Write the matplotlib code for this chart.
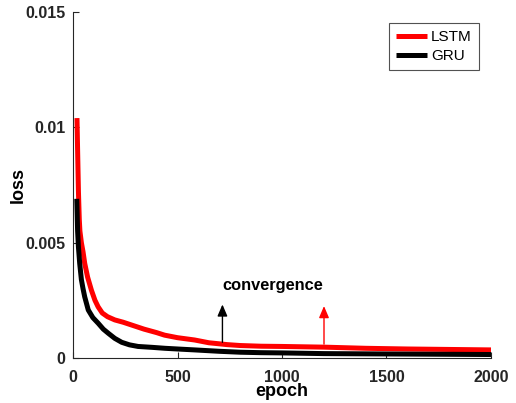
import numpy as np
import matplotlib.pyplot as plt

plt.rcParams['font.family'] = ['Liberation Sans', 'DejaVu Sans']

# LSTM loss curve
lstm_epoch = [19, 22, 26, 30, 33, 40, 48, 56, 70, 88, 105, 120, 140, 165, 200, 240, 280,
              340, 400, 438, 500, 582, 650, 737, 800, 900, 1000, 1200, 1400, 1600, 1800, 2000]
lstm_loss = [0.0104, 0.0090, 0.0072, 0.0060, 0.0055, 0.0050, 0.0046, 0.0041, 0.0035, 0.00294,
             0.0025, 0.00222, 0.00195, 0.00179, 0.00165, 0.00155, 0.00143, 0.00125, 0.00110,
             0.00099, 0.00088, 0.00078, 0.00066, 0.00058, 0.00054, 0.00051, 0.00050, 0.00047,
             0.00042, 0.00039, 0.00037, 0.00035]

# GRU loss curve
gru_epoch = [18, 20, 22, 26, 32, 40, 48, 56, 73, 95, 121, 145, 169, 200, 233, 270, 311,
             380, 440, 520, 582, 700, 800, 900, 1000, 1200, 1400, 1600, 1800, 2000]
gru_loss = [0.0069, 0.0062, 0.0055, 0.0048, 0.0041, 0.0034, 0.0030, 0.00265, 0.00208, 0.00175,
            0.0015, 0.00125, 0.00107, 0.00085, 0.00068, 0.00057, 0.00050, 0.00046, 0.00042,
            0.00038, 0.00035, 0.00029, 0.00025, 0.00023, 0.00022, 0.00019, 0.00018, 0.00017,
            0.00016, 0.00015]

fig = plt.figure(figsize=(5.16, 4.03), dpi=100)
ax = fig.add_axes([0.1415, 0.1117, 0.810, 0.8586])

ax.plot(lstm_epoch, lstm_loss, color='#ff0000', lw=3.6, label='LSTM', solid_capstyle='butt')
ax.plot(gru_epoch, gru_loss, color='black', lw=3.6, label='GRU', solid_capstyle='butt')

# convergence markers
ax.annotate('', xy=(715, 0.00244), xytext=(715, 0.00056),
            arrowprops=dict(arrowstyle='-|>,head_length=0.7,head_width=0.3', color='black', lw=1))
ax.annotate('', xy=(1201, 0.00237), xytext=(1201, 0.00048),
            arrowprops=dict(arrowstyle='-|>,head_length=0.7,head_width=0.3', color='red', lw=1))
ax.text(717, 0.00316, 'convergence', fontsize=11.8, fontweight='bold', ha='left', va='center')

ax.set_xlim(0, 2000)
ax.set_ylim(0, 0.015)
ax.set_xticks([0, 500, 1000, 1500, 2000])
ax.set_yticks([0, 0.005, 0.01, 0.015])
ax.set_yticklabels(['0', '0.005', '0.01', '0.015'])
ax.tick_params(direction='in', length=4, labelsize=11.5, colors='#262626')
ax.tick_params(axis='x', pad=8.5)
ax.tick_params(axis='y', pad=5.5)
for lab in ax.get_xticklabels() + ax.get_yticklabels():
    lab.set_fontweight('bold')
ax.spines['top'].set_visible(False)
ax.spines['right'].set_visible(False)
for s in ['left', 'bottom']:
    ax.spines[s].set_color('#262626')

ax.set_xlabel('epoch', fontsize=13, fontweight='bold', labelpad=-1)
ax.set_ylabel('loss', fontsize=13, fontweight='bold', labelpad=-1)

leg = ax.legend(loc='upper right', bbox_to_anchor=(0.971, 0.968), borderaxespad=0,
                fontsize=11, fancybox=False, edgecolor='#262626', handlelength=2.0,
                handletextpad=0.3, borderpad=0.45, labelspacing=0.35)
leg.get_frame().set_linewidth(0.8)

plt.savefig('out.png', dpi=100)
